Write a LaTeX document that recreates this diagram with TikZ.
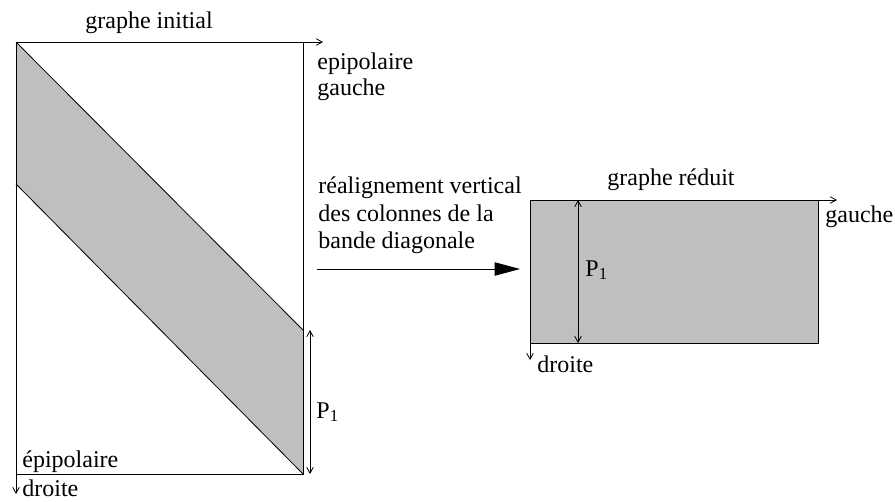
\documentclass[tikz,border=0pt]{standalone}
\usepackage{fontspec}
\setmainfont{Liberation Serif}
\usetikzlibrary{arrows.meta}
\begin{document}
\begin{tikzpicture}[x=0.75pt,y=-0.75pt,line width=0.6pt,
  >={Straight Barb[length=4.5pt,width=5pt]},
  lbl/.style={inner sep=0pt,font=\fontsize{18}{20}\selectfont},
  band/.style={fill=black!25}]
  \useasboundingbox (0,0) rectangle (895,501);
  % graphe initial
  \coordinate (gA) at (16,42); \coordinate (gB) at (303,42);
  \coordinate (gC) at (303,474); \coordinate (gD) at (16,474);
  \coordinate (gE) at (303,330); \coordinate (gF) at (16,184);
  \coordinate (gX) at (323,42); \coordinate (gY) at (16,494);
  \fill[band] (gA) -- (gE) -- (gC) -- (gF) -- cycle;
  \draw (gA) -- (gE); \draw (gF) -- (gC);
  \draw (gB) -- (gC) -- (gD);
  \draw[->] (gA) -- (gX); \draw[->] (gA) -- (gY);
  \coordinate (pA) at (310,330); \coordinate (pB) at (310,474);
  \draw[<->] (pA) -- (pB);
  \node[lbl,anchor=base west] (p1a) at (316,418) {P\textsubscript{1}};
  \node[lbl,anchor=base] (tinit) at (149,28) {graphe initial};
  \node[lbl,anchor=base west] (tepi) at (317,69) {epipolaire};
  \node[lbl,anchor=base west] (tgau) at (317,95) {gauche};
  \node[lbl,anchor=base west] (tepd) at (22,467) {épipolaire};
  \node[lbl,anchor=base west] (tdro) at (22,496) {droite};
  % realignement
  \node[lbl,anchor=base west] (r1) at (318,193) {réalignement vertical};
  \node[lbl,anchor=base west] (r2) at (318,221) {des colonnes de la};
  \node[lbl,anchor=base west] (r3) at (318,248) {bande diagonale};
  \coordinate (mA) at (317,269); \coordinate (mB) at (520,269);
  \draw[-{Triangle[length=19pt,width=10pt]}] (mA) -- (mB);
  % graphe reduit
  \coordinate (hA) at (530,200); \coordinate (hB) at (818,200);
  \coordinate (hC) at (818,343); \coordinate (hD) at (530,343);
  \coordinate (hX) at (837,200); \coordinate (hY) at (530,360);
  \fill[band] (hA) rectangle (hC);
  \draw (hB) -- (hC) -- (hD);
  \draw[->] (hA) -- (hX); \draw[->] (hA) -- (hY);
  \coordinate (qA) at (578,200); \coordinate (qB) at (578,343);
  \draw[<->] (qA) -- (qB);
  \node[lbl,anchor=base west] (p1b) at (585,276) {P\textsubscript{1}};
  \node[lbl,anchor=base] (tred) at (671,185) {graphe réduit};
  \node[lbl,anchor=base west] (tgau2) at (825,222) {gauche};
  \node[lbl,anchor=base west] (tdro2) at (537,372) {droite};
\end{tikzpicture}
\end{document}
